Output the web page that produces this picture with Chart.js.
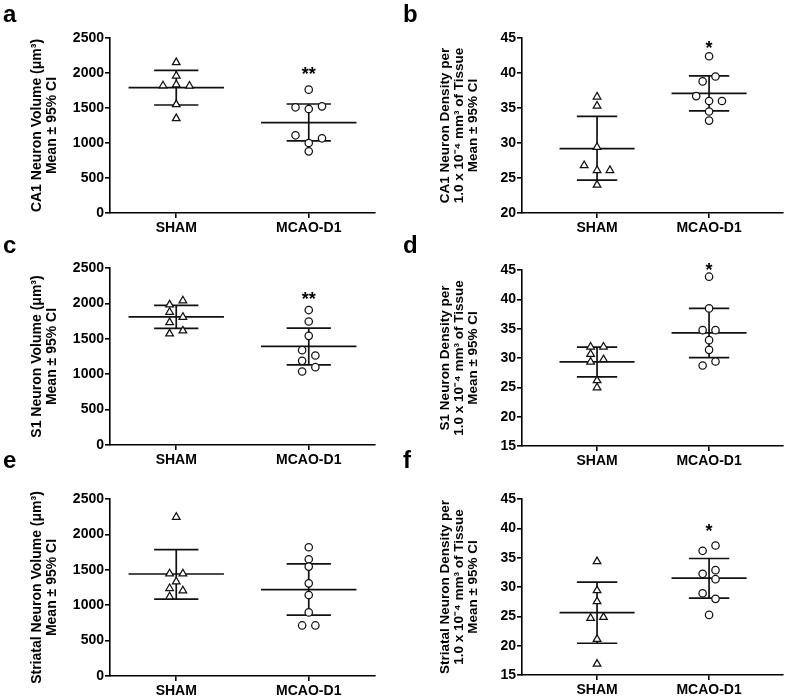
<!DOCTYPE html>
<html>
<head>
<meta charset="utf-8">
<script src="https://cdn.jsdelivr.net/npm/chart.js@4.4.1/dist/chart.umd.min.js"></script>
<style>
  html, body { margin: 0; padding: 0; background: #fff; }
  #fig { position: relative; width: 787px; height: 696px; overflow: hidden; }
  #fig canvas { position: absolute; }
</style>
</head>
<body>
<div id="fig">
  <canvas id="chart-a" width="390" height="240" style="left:0;top:0"></canvas>
  <canvas id="chart-b" width="397" height="240" style="left:390px;top:0"></canvas>
  <canvas id="chart-c" width="390" height="247" style="left:0;top:228px"></canvas>
  <canvas id="chart-d" width="397" height="247" style="left:390px;top:228px"></canvas>
  <canvas id="chart-e" width="390" height="246" style="left:0;top:450px"></canvas>
  <canvas id="chart-f" width="397" height="246" style="left:390px;top:450px"></canvas>
</div>
<script>
// ==================== DATOS ====================

const grupos = ['SHAM', 'MCAO-D1'];

// a — CA1 volumen (µm³)
const aSham = [2150, 1960, 1835, 1820, 1815, 1550, 1350];
const aShamPos = [0, 0, 0, -1, 1, 0, 0];
const aMcao = [1762, 1510, 1486, 1524, 1110, 1000, 1067, 881];
const aMcaoPos = [0, -1, 0, 1, -1, 0, 1, 0];
const aMedia = [1790, 1290];
const aIcBajo = [1543, 1030];
const aIcAlto = [2038, 1557];

// b — CA1 densidad
const bSham = [36.6, 35.3, 29.4, 26.8, 26.1, 26.1, 24.0];
const bShamPos = [0, 0, 0, -1, 0, 1, 0];
const bMcao = [42.4, 38.8, 39.5, 36.7, 36.0, 36.0, 34.5, 33.2];
const bMcaoPos = [0, -0.5, 0.5, -1, 0, 1, 0, 0];
const bMedia = [29.2, 37.1];
const bIcBajo = [24.7, 34.6];
const bIcAlto = [33.8, 39.6];

// c — S1 volumen
const cSham = [2038, 1981, 1877, 1807, 1731, 1613, 1571];
const cShamPos = [0.5, -0.5, -0.5, 0.5, -0.5, 0.5, -0.5];
const cMcao = [1906, 1745, 1542, 1340, 1264, 1189, 1099, 1038];
const cMcaoPos = [0, 0, 0, -0.5, 0.5, -0.5, 0.5, -0.5];
const cMedia = [1811, 1392];
const cIcBajo = [1646, 1132];
const cIcAlto = [1972, 1651];

// d — S1 densidad
const dSham = [31.9, 31.9, 30.65, 29.34, 29.74, 26.16, 24.96];
const dShamPos = [-0.5, 0.5, -0.5, -0.5, 0.5, 0, 0];
const dMcao = [43.86, 38.45, 34.75, 34.75, 33.04, 31.39, 28.72, 29.4];
const dMcaoPos = [0, 0, -0.5, 0.5, 0, 0, -0.5, 0.5];
const dMedia = [29.34, 34.29];
const dIcBajo = [26.78, 30.08];
const dIcAlto = [31.85, 38.45];

// e — Estriado volumen
const eSham = [2245, 1446, 1446, 1333, 1238, 1205, 1120];
const eShamPos = [0, -0.5, 0.5, 0, -0.5, 0.5, -0.5];
const eMcao = [1819, 1649, 1545, 1309, 1144, 898, 714, 714];
const eMcaoPos = [0, 0, 0, 0, 0, 0, -0.5, 0.5];
const eMedia = [1441, 1219];
const eIcBajo = [1087, 860];
const eIcAlto = [1786, 1583];

// f — Estriado densidad
const fSham = [34.35, 29.4, 27.52, 24.68, 24.85, 21.09, 16.88];
const fShamPos = [0, 0, 0, -0.5, 0.5, 0, 0];
const fMcao = [36.17, 37.08, 32.25, 32.87, 31.33, 28.94, 27.98, 25.24];
const fMcaoPos = [-0.5, 0.5, -0.5, 0.5, 0.5, -0.5, 0.5, 0];
const fMedia = [25.64, 31.5];
const fIcBajo = [20.41, 28.09];
const fIcAlto = [30.82, 34.86];

// Significancia (texto, posición en eje y)
const estrellas = { a: ['**', 2033], b: ['*', 44.05], c: ['**', 2108], d: ['*', 45.56], f: ['*', 40.04] };

const tituloVol = region => [region + ' Neuron Volume (\u03bcm\u00b3)', 'Mean \u00b1 95% CI'];
const tituloDens = region => [region + ' Neuron Density per', '1.0 x 10\u207b\u2074 mm\u00b3 of Tissue', 'Mean \u00b1 95% CI'];

// ==================== ESTILO ====================

const FUENTE = 'Arial, "Liberation Sans", Helvetica, sans-serif';
const NEGRO = '#111';

const ladoIzq = { xMin: 0.5, xMax: 2.5, yW: 110, padR: 15, paso: 0.1, anchoMedia: 0.36, anchoIc: 0.167,
                  tituloSize: 14, tituloLH: 15 / 14, tituloPad: 29.5, letraX: 3 };
const ladoDer = { xMin: 0.33, xMax: 2.66, yW: 132, padR: 4, paso: 0.115, anchoMedia: 0.335, anchoIc: 0.18,
                  tituloSize: 13.5, tituloLH: 14 / 13.5, tituloPad: 48, letraX: 13 };

// ── Plugin: letra del panel y asteriscos ────────────────────

const extras = {
    id: 'extras',
    afterDatasetsDraw(chart, args, opts) {
        const { ctx, scales: { x, y } } = chart;
        ctx.save();
        ctx.fillStyle = '#000';
        ctx.font = 'bold 24px ' + FUENTE;
        ctx.textAlign = 'left';
        ctx.textBaseline = 'alphabetic';
        ctx.fillText(opts.letra, opts.letraX, opts.letraY);
        if (opts.estrella) {
            ctx.font = 'bold 18px ' + FUENTE;
            ctx.textAlign = 'center';
            ctx.textBaseline = 'middle';
            ctx.fillText(opts.estrella[0], x.getPixelForValue(2), y.getPixelForValue(opts.estrella[1]) + 4);
        }
        ctx.restore();
    }
};

// ==================== CREACIÓN ====================

function crearPanel(id, letra, lado, cfg) {
    const puntos = (vals, pos, g) => vals.map((v, i) => ({ x: g + pos[i] * lado.paso, y: v }));
    const linea = data => ({
        data, showLine: true, pointRadius: 0, borderColor: NEGRO, borderWidth: 1.7,
        clip: false, order: 1
    });

    const datasets = [
        {
            data: puntos(cfg.sham, cfg.shamPos, 1), pointStyle: 'triangle', pointRadius: 4.4,
            borderColor: NEGRO, backgroundColor: '#fff', borderWidth: 1.25, clip: false, order: 0
        },
        {
            data: puntos(cfg.mcao, cfg.mcaoPos, 2), pointStyle: 'circle', pointRadius: 3.7,
            borderColor: NEGRO, backgroundColor: '#fff', borderWidth: 1.25, clip: false, order: 0
        }
    ];

    [0, 1].forEach(i => {
        const g = i + 1;
        datasets.push(linea([{ x: g - lado.anchoMedia, y: cfg.media[i] }, { x: g + lado.anchoMedia, y: cfg.media[i] }]));
        datasets.push(linea([{ x: g - lado.anchoIc, y: cfg.icBajo[i] }, { x: g + lado.anchoIc, y: cfg.icBajo[i] }]));
        datasets.push(linea([{ x: g - lado.anchoIc, y: cfg.icAlto[i] }, { x: g + lado.anchoIc, y: cfg.icAlto[i] }]));
        datasets.push(linea([{ x: g, y: cfg.icBajo[i] }, { x: g, y: cfg.icAlto[i] }]));
    });

    const fuenteTick = { family: FUENTE, size: 14, weight: 'bold' };

    new Chart(document.getElementById(id), {
        type: 'scatter',
        data: { datasets },
        options: {
            responsive: false,
            animation: false,
            events: [],
            layout: { autoPadding: false, padding: { top: cfg.padTop, right: lado.padR, left: 0, bottom: 0 } },
            plugins: {
                legend: { display: false },
                tooltip: { enabled: false },
                extras: { letra, letraX: lado.letraX, letraY: cfg.letraY, estrella: cfg.estrella }
            },
            scales: {
                x: {
                    type: 'linear', min: lado.xMin, max: lado.xMax,
                    afterBuildTicks: s => { s.ticks = [{ value: 1 }, { value: 2 }]; },
                    afterFit: s => { s.height = cfg.xH; },
                    ticks: { callback: (v, i) => grupos[i], font: fuenteTick, color: '#000', padding: 2, maxRotation: 0, autoSkip: false },
                    grid: { drawOnChartArea: false, drawTicks: true, tickLength: 5, color: '#000', lineWidth: 1.6 },
                    border: { color: '#000', width: 1.6 }
                },
                y: {
                    min: cfg.yMin, max: cfg.yMax,
                    afterFit: s => { s.width = lado.yW; },
                    ticks: { stepSize: cfg.yPaso, callback: v => String(v), font: fuenteTick, color: '#000', padding: 1 },
                    grid: { drawOnChartArea: false, drawTicks: true, tickLength: 5, color: '#000', lineWidth: 1.6 },
                    border: { color: '#000', width: 1.6 },
                    title: {
                        display: true, text: cfg.titulo, color: '#000',
                        font: { family: FUENTE, size: lado.tituloSize, weight: 'bold', lineHeight: lado.tituloLH },
                        padding: { top: lado.tituloPad, bottom: 0 }
                    }
                }
            }
        },
        plugins: [extras]
    });
}

crearPanel('chart-a', 'a', ladoIzq, {
    sham: aSham, shamPos: aShamPos, mcao: aMcao, mcaoPos: aMcaoPos,
    media: aMedia, icBajo: aIcBajo, icAlto: aIcAlto, estrella: estrellas.a,
    yMin: 0, yMax: 2500, yPaso: 500, titulo: tituloVol('CA1'),
    padTop: 38, xH: 27, letraY: 22
});
crearPanel('chart-b', 'b', ladoDer, {
    sham: bSham, shamPos: bShamPos, mcao: bMcao, mcaoPos: bMcaoPos,
    media: bMedia, icBajo: bIcBajo, icAlto: bIcAlto, estrella: estrellas.b,
    yMin: 20, yMax: 45, yPaso: 5, titulo: tituloDens('CA1'),
    padTop: 38, xH: 27, letraY: 22
});
crearPanel('chart-c', 'c', ladoIzq, {
    sham: cSham, shamPos: cShamPos, mcao: cMcao, mcaoPos: cMcaoPos,
    media: cMedia, icBajo: cIcBajo, icAlto: cIcAlto, estrella: estrellas.c,
    yMin: 0, yMax: 2500, yPaso: 500, titulo: tituloVol('S1'),
    padTop: 40, xH: 30, letraY: 25
});
crearPanel('chart-d', 'd', ladoDer, {
    sham: dSham, shamPos: dShamPos, mcao: dMcao, mcaoPos: dMcaoPos,
    media: dMedia, icBajo: dIcBajo, icAlto: dIcAlto, estrella: estrellas.d,
    yMin: 15, yMax: 45, yPaso: 5, titulo: tituloDens('S1'),
    padTop: 42, xH: 29, letraY: 25
});
crearPanel('chart-e', 'e', ladoIzq, {
    sham: eSham, shamPos: eShamPos, mcao: eMcao, mcaoPos: eMcaoPos,
    media: eMedia, icBajo: eIcBajo, icAlto: eIcAlto, estrella: null,
    yMin: 0, yMax: 2500, yPaso: 500, titulo: tituloVol('Striatal'),
    padTop: 49, xH: 20, letraY: 18
});
crearPanel('chart-f', 'f', ladoDer, {
    sham: fSham, shamPos: fShamPos, mcao: fMcao, mcaoPos: fMcaoPos,
    media: fMedia, icBajo: fIcBajo, icAlto: fIcAlto, estrella: estrellas.f,
    yMin: 15, yMax: 45, yPaso: 5, titulo: tituloDens('Striatal'),
    padTop: 49, xH: 21, letraY: 18
});
</script>
</body>
</html>
